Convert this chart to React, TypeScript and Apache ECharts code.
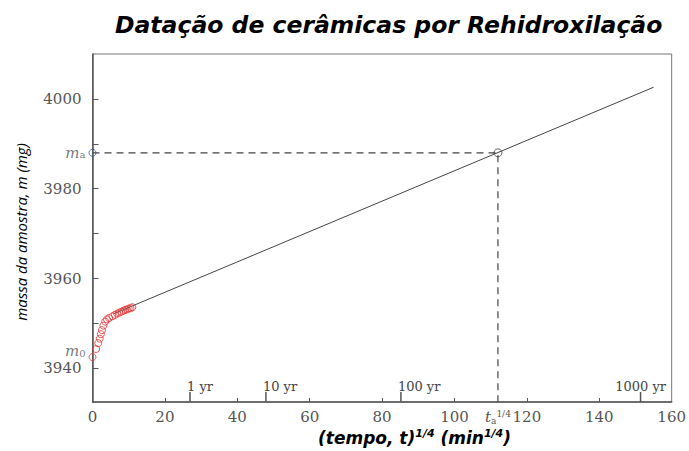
import React, { useEffect, useRef } from "react";
import * as echarts from "echarts";

// ---- data ----
const RED_T = [0, 1.0, 1.6, 2.0, 2.3, 2.6, 3.0, 3.5, 4.0, 4.6, 5.5, 6.2, 6.8, 7.4, 8.0, 8.5, 9.0, 9.5, 10.0, 10.5, 11.0];
const RED_M = [3942.5, 3944.3, 3945.6, 3946.6, 3947.6, 3948.5, 3949.5, 3950.4, 3950.9, 3951.2, 3951.6, 3951.9, 3952.2, 3952.4, 3952.6, 3952.8, 3953.0, 3953.1, 3953.3, 3953.4, 3953.6];
const FIT_T = [6, 155];
const FIT_M = [3952.2, 4002.6];
const TA = 112;
const MA = 3988;
const Y_MIN = 3932.5;
const Y_MAX = 4010;
const X_MIN = 0;
const X_MAX = 160;
const X_LABELS = [0, 20, 40, 60, 80, 100, TA, 120, 140, 160];
const X_TICKS = [20, 40, 60, 80, 100, 120, 140];
const Y_LABELS = [3940, 3960, 3980, 4000];
const Y_TICKS = [3940, 3950, 3960, 3970, 3980, 3990, 4000];
const YEAR_T = [26.93, 47.9, 85.2, 151.4];
const YEAR_LABELS = ["1 yr", "10 yr", "100 yr", "1000 yr"];

const SERIF = "'DejaVu Serif', 'Liberation Serif', serif";
const WIDE = "'DejaVu Sans', 'Noto Sans', sans-serif";
const SANS = "'Open Sans', 'Noto Sans', sans-serif";

export default function App() {
  const ref = useRef<HTMLDivElement>(null);
  useEffect(() => {
    if (!ref.current) return;
    const chart = echarts.init(ref.current, null, { renderer: "svg" });
    const subRich = {
      m: { fontFamily: SERIF, fontStyle: "italic", fontSize: 15, color: "#555", lineHeight: 12 },
      s: { fontFamily: SERIF, fontSize: 10, color: "#555", verticalAlign: "bottom", lineHeight: 14 },
    };
    const option: any = {
      animation: false,
      backgroundColor: "#ffffff",
      title: {
        text: "Datação de cerâmicas por Rehidroxilação",
        left: 110,
        top: 8,
        textStyle: {
          fontFamily: WIDE,
          fontSize: 23.5,
          fontWeight: "bold",
          fontStyle: "italic",
          color: "#000",
        },
      },
      grid: {
        left: 92.5,
        right: 16.5,
        top: 54,
        bottom: 49,
        show: true,
        borderColor: "#777",
        borderWidth: 1,
      },
      xAxis: {
        type: "value",
        min: X_MIN,
        max: X_MAX,
        axisLine: { show: true, onZero: false, lineStyle: { color: "#555", width: 1.5 } },
        axisTick: { show: true, inside: true, length: 4, customValues: X_TICKS, lineStyle: { color: "#555" } },
        splitLine: { show: false },
        axisLabel: {
          customValues: X_LABELS,
          margin: 7,
          color: "#555",
          fontFamily: SERIF,
          fontSize: 15,
          lineHeight: 16,
          formatter: (v: number) => (v === TA ? "{t|t}{s|a}{p|1/4}" : String(v)),
          rich: {
            t: { fontFamily: SERIF, fontStyle: "italic", fontSize: 15, color: "#555", lineHeight: 16 },
            s: { fontFamily: SERIF, fontSize: 9, color: "#555", verticalAlign: "bottom", lineHeight: 16 },
            p: { fontFamily: SERIF, fontSize: 9, color: "#555", verticalAlign: "top", lineHeight: 16 },
          },
        },
      },
      yAxis: {
        type: "value",
        min: Y_MIN,
        max: Y_MAX,
        name: "massa da amostra, m (mg)",
        nameLocation: "middle",
        nameRotate: 90,
        nameGap: 64,
        nameTextStyle: {
          fontFamily: SANS,
          fontStyle: "italic",
          fontSize: 15,
          color: "#000",
          padding: [0, 8, 0, 0],
        },
        axisLine: { show: true, onZero: false, lineStyle: { color: "#555", width: 1.5 } },
        axisTick: { show: true, inside: true, length: 6, customValues: Y_TICKS, lineStyle: { color: "#555" } },
        splitLine: { show: false },
        axisLabel: {
          customValues: Y_LABELS,
          margin: 11,
          color: "#555",
          fontFamily: SERIF,
          fontSize: 15,
          lineHeight: 13,
          padding: [3, 0, 0, 0],
          formatter: (v: number) => String(v),
        },
      },
      graphic: [
        {
          type: "text",
          left: 318,
          top: 428,
          style: {
            text: "{a|(tempo, t)}{p|1/4}{a| (min}{p|1/4}{a|)}",
            rich: {
              a: { fontFamily: WIDE, fontWeight: "bold", fontStyle: "italic", fontSize: 17, color: "#000", lineHeight: 20 },
              p: { fontFamily: WIDE, fontWeight: "bold", fontStyle: "italic", fontSize: 11, color: "#000", verticalAlign: "top", lineHeight: 20 },
            },
          },
        },
      ],
      series: [
        {
          type: "line",
          data: FIT_T.map((t, i) => [t, FIT_M[i]]),
          symbol: "none",
          lineStyle: { color: "#444", width: 1 },
          z: 2,
        },
        {
          type: "line",
          data: [
            [X_MIN, MA],
            [TA, MA],
            [TA, Y_MIN],
          ],
          symbol: "none",
          lineStyle: { color: "#444", width: 1.2, type: [7, 5] },
          z: 2,
        },
        {
          type: "scatter",
          data: RED_T.map((t, i) => [t, RED_M[i]]),
          symbol: "circle",
          symbolSize: 7,
          clip: false,
          itemStyle: { color: "rgba(255,255,255,0)", borderColor: "#e8302f", borderWidth: 1 },
          label: {
            show: true,
            position: "left",
            distance: 3,
            offset: [0, -6],
            formatter: (p: any) => (p.dataIndex === 0 ? "{m|m}{s|0}" : ""),
            rich: subRich,
          },
          z: 3,
        },
        {
          type: "scatter",
          data: [[X_MIN, MA]],
          symbol: "circle",
          symbolSize: 7,
          clip: false,
          itemStyle: { color: "rgba(255,255,255,0)", borderColor: "#3a55a8", borderWidth: 1 },
          label: {
            show: true,
            position: "left",
            distance: 3,
            formatter: "{m|m}{s|a}",
            rich: subRich,
          },
          z: 3,
        },
        {
          type: "scatter",
          data: [[TA, MA]],
          symbol: "circle",
          symbolSize: 8,
          clip: false,
          itemStyle: { color: "rgba(255,255,255,0)", borderColor: "#444", borderWidth: 1 },
          z: 3,
        },
        {
          type: "custom",
          data: YEAR_T.map((t) => [t, Y_MIN]),
          encode: { x: 0, y: 1 },
          clip: false,
          renderItem: (params: any, api: any) => {
            const p = api.coord([api.value(0), api.value(1)]);
            const last = params.dataIndex === YEAR_T.length - 1;
            return {
              type: "group",
              children: [
                {
                  type: "line",
                  shape: { x1: p[0], y1: p[1], x2: p[0], y2: p[1] - 10 },
                  style: { stroke: "#555", lineWidth: 1.5 },
                },
                {
                  type: "text",
                  x: last ? p[0] : p[0] - 3,
                  y: p[1] - 9,
                  style: {
                    text: YEAR_LABELS[params.dataIndex],
                    align: last ? "center" : "left",
                    verticalAlign: "bottom",
                    fontFamily: SERIF,
                    fontSize: 13,
                    fill: "#444",
                  },
                },
              ],
            };
          },
          z: 4,
        },
      ],
    };
    chart.setOption(option);
    return () => chart.dispose();
  }, []);
  return (
    <div
      ref={ref}
      style={{ position: "fixed", left: 0, top: 0, width: 689, height: 451, background: "#fff" }}
    />
  );
}
